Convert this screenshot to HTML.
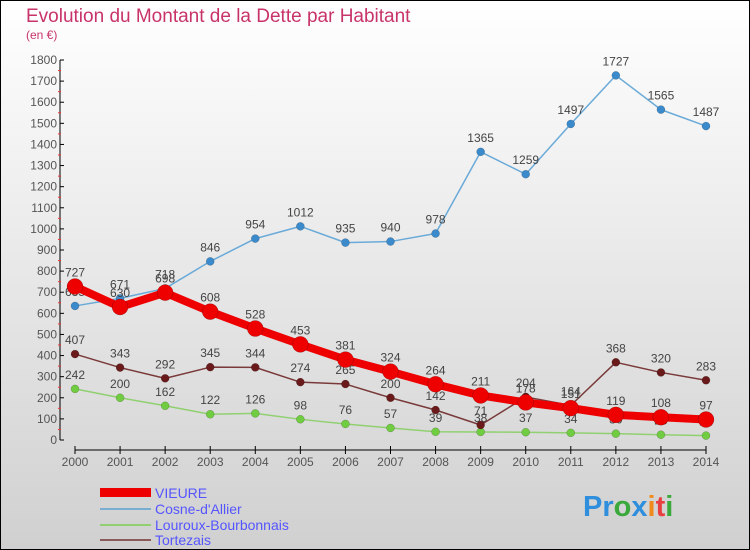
<!DOCTYPE html>
<html><head><meta charset="utf-8"><style>
body{margin:0;}
#wrap{width:750px;height:550px;position:relative;overflow:hidden;}
svg text{font-family:"Liberation Sans",sans-serif;}
</style></head><body>
<div id="wrap">
<svg id="chart" width="750" height="550" xmlns="http://www.w3.org/2000/svg">
<defs><linearGradient id="bg" x1="0" y1="0" x2="0" y2="1"><stop offset="0" stop-color="#ffffff"/><stop offset="1" stop-color="#d0d0d0"/></linearGradient></defs>
<rect x="0.5" y="0.5" width="749" height="549" fill="url(#bg)" stroke="#000"/>
<text x="26" y="22" font-size="19" fill="#c8336a">Evolution du Montant de la Dette par Habitant</text>
<text x="26" y="39" font-size="12" fill="#c8336a">(en €)</text>
<g id="axes"></g><g id="series"></g>
<g>
<rect x="100" y="488" width="51" height="9" fill="#ee0000"/>
<text x="155" y="498" font-size="14" fill="#5555ff">VIEURE</text>
<line x1="100" y1="509" x2="151" y2="509" stroke="#7aaed0" stroke-width="2"/>
<text x="155" y="514" font-size="14" fill="#5555ff">Cosne-d'Allier</text>
<line x1="100" y1="525" x2="151" y2="525" stroke="#90d070" stroke-width="2"/>
<text x="155" y="530" font-size="14" fill="#5555ff">Louroux-Bourbonnais</text>
<line x1="100" y1="540" x2="151" y2="540" stroke="#8a5a5a" stroke-width="2"/>
<text x="155" y="545" font-size="14" fill="#5555ff">Tortezais</text>
</g>
<g font-size="29" font-weight="bold">
<text x="583" y="516"><tspan fill="#2f8fdd">Pr</tspan><tspan fill="#3aa83a">o</tspan><tspan fill="#2f8fdd">x</tspan><tspan fill="#f08a1a">i</tspan><tspan fill="#e84040">t</tspan><tspan fill="#3aa83a">i</tspan></text>
</g>
</svg></div>
<script>
const years=[2000,2001,2002,2003,2004,2005,2006,2007,2008,2009,2010,2011,2012,2013,2014];
const vieure=[727,630,698,608,528,453,381,324,264,211,178,151,119,108,97];
const cosne=[635,671,718,846,954,1012,935,940,978,1365,1259,1497,1727,1565,1487];
const louroux=[242,200,162,122,126,98,76,57,39,38,37,34,30,25,21];
const tortezais=[407,343,292,345,344,274,265,200,142,71,204,164,368,320,283];
const yTicks=[0,100,200,300,400,500,600,700,800,900,1000,1100,1200,1300,1400,1500,1600,1700,1800];
const NS="http://www.w3.org/2000/svg";
const X=i=>75+i*(706-75)/(years.length-1);
const Y=v=>440-v*380/1800;
function mk(t,a,p){const e=document.createElementNS(NS,t);for(const k in a)e.setAttribute(k,a[k]);p.appendChild(e);return e;}
const ax=document.getElementById('axes');
const yl=mk('line',{x1:60,y1:Y(1800),x2:60,y2:440,stroke:'#000'},ax);


yTicks.forEach(v=>{
 mk('line',{x1:60,y1:Y(v),x2:64,y2:Y(v),stroke:'#000'},ax);
 if(v<1800) mk('line',{x1:58,y1:Y(v+50),x2:61,y2:Y(v+50),stroke:'#e33'},ax);
 const t=mk('text',{x:57,y:Y(v)+4,'font-size':12,fill:'#555','text-anchor':'end'},ax);t.textContent=v;
 
 
});
const xl=mk('line',{x1:X(0),y1:450,x2:X(years.length-1),y2:450,stroke:'#000'},ax);


years.forEach((y,i)=>{
 mk('line',{x1:X(i),y1:446,x2:X(i),y2:454,stroke:'#000'},ax);
 const t=mk('text',{x:X(i),y:466,'font-size':12,fill:'#555','text-anchor':'middle'},ax);t.textContent=y;
 
 
});
const sg=document.getElementById('series');
function draw(data,name,color,w,r,dot){
 const g=mk('g',{},sg);
 
 
 mk('polyline',{points:data.map((v,i)=>X(i)+','+Y(v)).join(' '),fill:'none',stroke:color,'stroke-width':w,'stroke-linejoin':'round'},g);
 data.forEach((v,i)=>{
  const c=mk('circle',{cx:X(i),cy:Y(v),r:r,fill:dot,stroke:'rgba(0,0,0,0.3)','stroke-width':0.5},g);
  
  
  const t=mk('text',{x:X(i),y:Y(v)-10,'font-size':12,fill:'#444','text-anchor':'middle'},g);t.textContent=v;
  
  
 });
}
draw(louroux,'louroux','#90d070',1.5,4,'#70cc40');
draw(tortezais,'tortezais','#7a3a3a',1.5,4,'#6a1a1a');
draw(cosne,'cosne','#6aaad8',1.5,4,'#3a8acc');
draw(vieure,'vieure','#ee0000',8,8,'#ee0000');
</script>
</body></html>
